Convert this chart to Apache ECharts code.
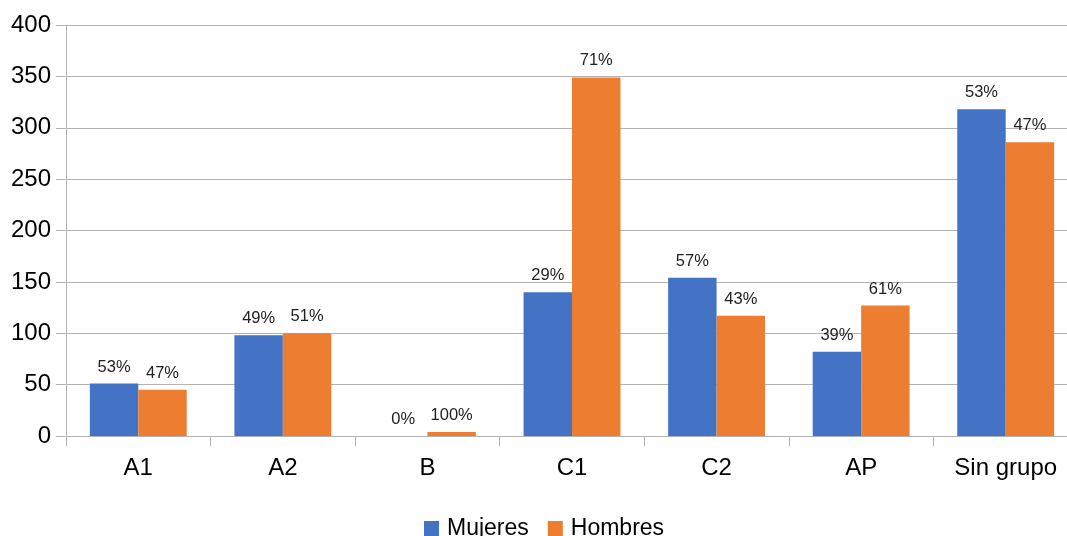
<!DOCTYPE html>
<html><head><meta charset="utf-8">
<script src="https://cdn.jsdelivr.net/npm/echarts@6/dist/echarts.min.js"></script>
<style>html,body{margin:0;padding:0;background:#fff;overflow:hidden}#c{width:1080px;height:536px}</style>
</head><body><div id="c"></div>
<script>
const categories = ['A1','A2','B','C1','C2','AP','Sin grupo'];
const mujeres = [51, 98, 0, 140, 154, 82, 318];
const hombres = [45, 100, 4, 349, 117, 127, 286];
const mujeresPct = ['53%','49%','0%','29%','57%','39%','53%'];
const hombresPct = ['47%','51%','100%','71%','43%','61%','47%'];
const yTicks = [0, 400, 50];

const font = 'Liberation Sans, Arial, sans-serif';
const chart = echarts.init(document.getElementById('c'));
chart.setOption({
  animation: false,
  textStyle: {fontFamily: font},
  grid: {left: 66, right: 2, top: 25, bottom: 100},
  legend: {
    top: 512, left: 419, itemWidth: 15, itemHeight: 15, itemGap: 19,
    icon: 'rect',
    textStyle: {fontSize: 23, color: '#000', fontFamily: font, padding: [0, 0, 0, 3]},
    data: ['Mujeres','Hombres']
  },
  xAxis: {
    type: 'category', data: categories,
    axisLine: {lineStyle: {color: '#b3b3b3'}},
    axisTick: {show: true, length: 10, lineStyle: {color: '#b3b3b3'}},
    axisLabel: {fontSize: 24, color: '#000', margin: 20, fontFamily: font}
  },
  yAxis: {
    type: 'value', min: yTicks[0], max: yTicks[1], interval: yTicks[2],
    axisLine: {show: true, lineStyle: {color: '#b3b3b3'}},
    axisTick: {show: true, length: 10, lineStyle: {color: '#b3b3b3'}},
    splitLine: {lineStyle: {color: '#b3b3b3'}},
    axisLabel: {fontSize: 24, color: '#000', margin: 15, fontFamily: font}
  },
  series: [
    {name: 'Mujeres', type: 'bar', data: mujeres, barGap: '0%', barCategoryGap: '33%',
     itemStyle: {color: '#4472c4'},
     label: {show: true, position: 'top', distance: 8, fontSize: 16.5, color: '#222', fontFamily: font,
       formatter: p => mujeresPct[p.dataIndex]}},
    {name: 'Hombres', type: 'bar', data: hombres, barGap: '0%', barCategoryGap: '33%',
     itemStyle: {color: '#ed7d31'},
     label: {show: true, position: 'top', distance: 8, fontSize: 16.5, color: '#222', fontFamily: font,
       formatter: p => hombresPct[p.dataIndex]}}
  ]
});
</script></body></html>
